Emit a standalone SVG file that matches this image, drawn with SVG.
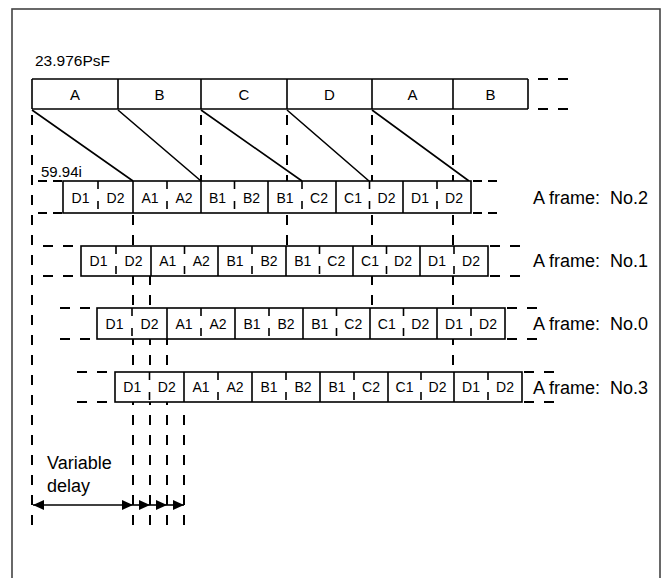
<svg xmlns="http://www.w3.org/2000/svg" width="661" height="578" viewBox="0 0 661 578">
<style>
text{font-family:"Liberation Sans",Arial,sans-serif;fill:#000}
.c{font-size:14px;text-anchor:middle}
.t{font-size:15px;text-anchor:middle}
.l{font-size:18px;white-space:pre}
.box{fill:#fff;stroke:#000;stroke-width:1.6}
.s{stroke:#000;stroke-width:1.6;fill:none}
.tk{stroke:#000;stroke-width:1.6;stroke-dasharray:8 12;fill:none}
.d{stroke:#000;stroke-width:2;stroke-dasharray:10 10;fill:none}
.h{stroke:#000;stroke-width:1.6;fill:none}
</style>
<defs>
<marker id="ar" viewBox="0 0 11 10" refX="11" refY="5" markerWidth="11" markerHeight="10" markerUnits="userSpaceOnUse" orient="auto-start-reverse">
<path d="M0,0L11,5L0,10z" fill="#000"/>
</marker>
</defs>
<rect x="12" y="9" width="648" height="580" fill="#fff" stroke="#444" stroke-width="1.6"/>

<g id="connectors">
<path class="d" d="M32,115V525M287,115V246M372,115V308M453,115V372M201,115V181M133,215V525M150,275V525M167,335V525M184,415V525"/>
<path class="h" d="M32,110L133,181M118,110L201,181M201,110L302,181M287,110L369,181M372,110L469,181"/>
<path class="h" d="M33,505H133" marker-start="url(#ar)" marker-end="url(#ar)"/>
<path class="h" d="M133,505H150" marker-end="url(#ar)"/>
<path class="h" d="M150,505H167" marker-end="url(#ar)"/>
<path class="h" d="M167,505H184" marker-end="url(#ar)"/>
</g>

<g id="top-row">
<text x="35" y="66" style="font-size:15.5px">23.976PsF</text>
<path class="s" d="M32,79H528M32,109H528M32,79V109M118,79V109M201,79V109M287,79V109M372,79V109M453,79V109M528,79V109"/>
<path class="d" d="M538,79H570M538,109H570"/>
<text class="t" x="75" y="100">A</text>
<text class="t" x="159.5" y="100">B</text>
<text class="t" x="244" y="100">C</text>
<text class="t" x="329.5" y="100">D</text>
<text class="t" x="412.5" y="100">A</text>
<text class="t" x="490.5" y="100">B</text>
</g>

<g id="row-no2">
<text x="41" y="177" style="font-size:15px">59.94i</text>
<rect class="box" x="63" y="181" width="408" height="32"/>
<path class="s" d="M133,181V213M201,181V213M268,181V213M336,181V213M403,181V213"/>
<path class="tk" d="M98,181V213M167,181V213M234.5,181V213M302,181V213M369.5,181V213M437,181V213"/>
<path class="d" d="M38,181H62M38,213H62M473,181H503M473,213H503" style="stroke-dasharray:9 6"/>
<text class="c" x="80.5" y="202.5">D1</text><text class="c" x="115.5" y="202.5">D2</text>
<text class="c" x="150" y="202.5">A1</text><text class="c" x="184" y="202.5">A2</text>
<text class="c" x="217.5" y="202.5">B1</text><text class="c" x="251.5" y="202.5">B2</text>
<text class="c" x="285" y="202.5">B1</text><text class="c" x="319" y="202.5">C2</text>
<text class="c" x="353" y="202.5">C1</text><text class="c" x="386.5" y="202.5">D2</text>
<text class="c" x="420" y="202.5">D1</text><text class="c" x="454" y="202.5">D2</text>
<text class="l" x="533" y="204">A frame:  No.2</text>
</g>

<g id="row-no1">
<rect class="box" x="81" y="246" width="407" height="30"/>
<path class="s" d="M151,246V276M218,246V276M286,246V276M353,246V276M420,246V276"/>
<path class="tk" d="M116,246V276M184.5,246V276M252,246V276M319.5,246V276M386.5,246V276M454,246V276"/>
<path class="d" d="M43,246H74M43,276H74M490,246H520M490,276H520"/>
<text class="c" x="98.5" y="266">D1</text><text class="c" x="133.5" y="266">D2</text>
<text class="c" x="167.75" y="266">A1</text><text class="c" x="201.25" y="266">A2</text>
<text class="c" x="235" y="266">B1</text><text class="c" x="269" y="266">B2</text>
<text class="c" x="302.75" y="266">B1</text><text class="c" x="336.25" y="266">C2</text>
<text class="c" x="370" y="266">C1</text><text class="c" x="403" y="266">D2</text>
<text class="c" x="437" y="266">D1</text><text class="c" x="471" y="266">D2</text>
<text class="l" x="533" y="267">A frame:  No.1</text>
</g>

<g id="row-no0">
<rect class="box" x="97" y="308" width="408" height="31"/>
<path class="s" d="M167,308V339M235,308V339M303,308V339M370,308V339M437,308V339"/>
<path class="tk" d="M132,308V339M201,308V339M269,308V339M336.5,308V339M403.5,308V339M471,308V339"/>
<path class="d" d="M60,308H92M60,339H92M507,308H537M507,339H537"/>
<text class="c" x="114.5" y="329">D1</text><text class="c" x="149.5" y="329">D2</text>
<text class="c" x="184" y="329">A1</text><text class="c" x="218" y="329">A2</text>
<text class="c" x="252" y="329">B1</text><text class="c" x="286" y="329">B2</text>
<text class="c" x="319.75" y="329">B1</text><text class="c" x="353.25" y="329">C2</text>
<text class="c" x="386.75" y="329">C1</text><text class="c" x="420.25" y="329">D2</text>
<text class="c" x="454" y="329">D1</text><text class="c" x="488" y="329">D2</text>
<text class="l" x="533" y="330">A frame:  No.0</text>
</g>

<g id="row-no3">
<rect class="box" x="115" y="372" width="407" height="30"/>
<path class="s" d="M184,372V402M252,372V402M320,372V402M388,372V402M454,372V402"/>
<path class="tk" d="M149.5,372V402M218,372V402M286,372V402M354,372V402M421,372V402M488,372V402"/>
<path class="d" d="M77,372H109M77,402H109M524,372H554M524,402H554"/>
<text class="c" x="132.25" y="392">D1</text><text class="c" x="166.75" y="392">D2</text>
<text class="c" x="201" y="392">A1</text><text class="c" x="235" y="392">A2</text>
<text class="c" x="269" y="392">B1</text><text class="c" x="303" y="392">B2</text>
<text class="c" x="337" y="392">B1</text><text class="c" x="371" y="392">C2</text>
<text class="c" x="404.5" y="392">C1</text><text class="c" x="437.5" y="392">D2</text>
<text class="c" x="471" y="392">D1</text><text class="c" x="505" y="392">D2</text>
<text class="l" x="533" y="394">A frame:  No.3</text>
</g>

<g id="delay-label">
<text x="47" y="469" style="font-size:18px">Variable</text>
<text x="47" y="492" style="font-size:18px">delay</text>
</g>
</svg>
